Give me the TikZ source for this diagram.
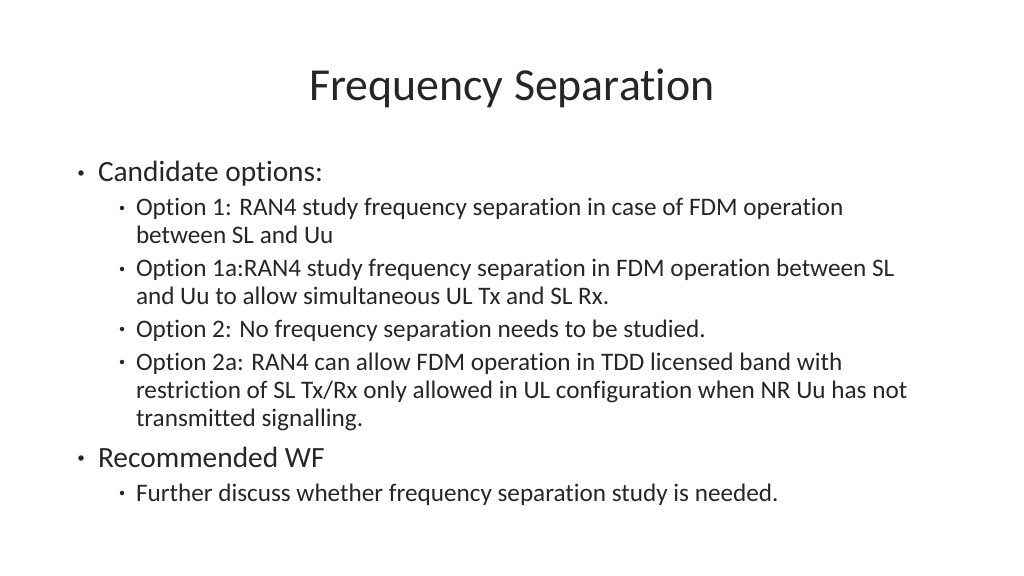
\documentclass[tikz,border=0pt]{standalone}
\usepackage{fontspec}
\setmainfont{Carlito}[Ligatures={NoCommon}]
\begin{document}
\begin{tikzpicture}[x=1bp,y=-1bp,
  every node/.style={inner sep=0pt,outer sep=0pt,anchor=base west,text=black!85},
  lone/.style={font=\fontsize{29.5}{34}\selectfont},
  ltwo/.style={font=\fontsize{25.3}{28}\selectfont},
  dot/.style={circle,fill=black!85,minimum size=#1,anchor=center}]
\useasboundingbox (0,0) rectangle (1024,576);
\node[anchor=base,font=\fontsize{46}{52}\selectfont] (title) at (512,101) {Frequency Separation};
\node[dot=5.5bp] (b1) at (81,173) {};
\node[lone] (t1) at (98,182) {Candidate options:};
\node[dot=4.5bp] (b11) at (122,208) {};
\node[ltwo] (t11) at (136,216) {Option 1: RAN4 study frequency separation in case of FDM operation};
\node[ltwo] (t11b) at (136,244) {between SL and Uu};
\node[dot=4.5bp] (b12) at (122,269) {};
\node[ltwo] (t12) at (136,277) {Option 1a:RAN4 study frequency separation in FDM operation between SL};
\node[ltwo] (t12b) at (136,305) {and Uu to allow simultaneous UL Tx and SL Rx.};
\node[dot=4.5bp] (b13) at (122,329) {};
\node[ltwo] (t13) at (136,337) {Option 2: No frequency separation needs to be studied.};
\node[dot=4.5bp] (b14) at (122,362) {};
\node[ltwo] (t14) at (136,370) {Option 2a: RAN4 can allow FDM operation in TDD licensed band with};
\node[ltwo] (t14b) at (136,398) {restriction of SL Tx/Rx only allowed in UL configuration when NR Uu has not};
\node[ltwo] (t14c) at (136,426) {transmitted signalling.};
\node[dot=5.5bp] (b2) at (81,458) {};
\node[lone] (t2) at (98,467) {Recommended WF};
\node[dot=4.5bp] (b21) at (122,493) {};
\node[ltwo] (t21) at (136,501) {Further discuss whether frequency separation study is needed.};
\end{tikzpicture}
\end{document}
